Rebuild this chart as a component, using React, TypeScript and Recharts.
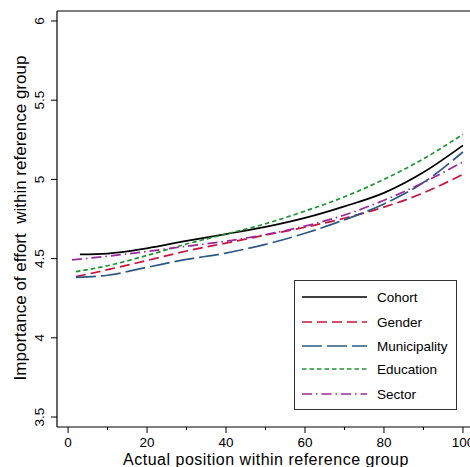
import React from "react";
import { LineChart, Line, XAxis, YAxis, Legend, ReferenceLine } from "recharts";

// actual position (x) shared by all series; first point differs per series
const POSITIONS = [2, 10, 20, 30, 40, 50, 60, 70, 80, 90, 100];
const FIRST_POSITION = [3, 2, 2, 2, 1];

const COHORT = [4.527, 4.532, 4.565, 4.612, 4.655, 4.7, 4.757, 4.83, 4.915, 5.045, 5.215];
const GENDER = [4.386, 4.43, 4.488, 4.548, 4.598, 4.648, 4.698, 4.755, 4.825, 4.915, 5.032];
const MUNICIPALITY = [4.382, 4.395, 4.445, 4.495, 4.535, 4.59, 4.66, 4.745, 4.845, 4.98, 5.173];
const EDUCATION = [4.418, 4.455, 4.52, 4.592, 4.655, 4.72, 4.8, 4.89, 5.0, 5.13, 5.285];
const SECTOR = [4.492, 4.515, 4.545, 4.578, 4.61, 4.652, 4.705, 4.775, 4.868, 4.98, 5.11];

const SERIES_NAMES = ["Cohort", "Gender", "Municipality", "Education", "Sector"];
const SERIES_VALUES = [COHORT, GENDER, MUNICIPALITY, EDUCATION, SECTOR];
const SERIES_COLORS = ["#000000", "#c8143c", "#2c5985", "#1e9632", "#9c2a9c"];
const SERIES_DASH = ["", "10 5", "20 5", "4.5 3", "10 4 1.5 4"];

const X_TICKS = [0, 10, 20, 30, 40, 50, 60, 70, 80, 90, 100];
const Y_TICKS = [3.5, 4, 4.5, 5, 5.5, 6];

const FONT = "'Liberation Sans', Arial, sans-serif";

const seriesData = SERIES_VALUES.map((vals, s) =>
  vals.map((v, i) => ({ x: i === 0 ? FIRST_POSITION[s] : POSITIONS[i], y: v }))
);

function XTick(props: any) {
  const { x, y, payload } = props;
  const major = payload.value % 20 === 0;
  return (
    <g>
      <line x1={x} x2={x} y1={y} y2={y + (major ? 6 : 3)} stroke="#000" strokeWidth={1} />
      {major && (
        <text x={x} y={y + 20} textAnchor="middle" fontSize={13.5} fontFamily={FONT} fill="#000">
          {payload.value}
        </text>
      )}
    </g>
  );
}

function YTick(props: any) {
  const { x, y, payload } = props;
  const tx = x - 13;
  return (
    <g>
      <line x1={x - 6} x2={x} y1={y} y2={y} stroke="#000" strokeWidth={1} />
      <text
        x={tx}
        y={y}
        transform={`rotate(-90, ${tx}, ${y})`}
        textAnchor="middle"
        fontSize={13.5}
        fontFamily={FONT}
        fill="#000"
      >
        {payload.value}
      </text>
    </g>
  );
}

const ROW_Y = [17, 42, 66, 89, 114];

function LegendBox() {
  return (
    <svg width={163} height={130} style={{ display: "block" }}>
      <rect x={0.5} y={0.5} width={162} height={129} fill="#fff" stroke="#333" strokeWidth={1} />
      {SERIES_NAMES.map((name, i) => (
        <g key={name}>
          <line
            x1={8}
            x2={73}
            y1={ROW_Y[i]}
            y2={ROW_Y[i]}
            stroke={SERIES_COLORS[i]}
            strokeWidth={1.6}
            strokeDasharray={SERIES_DASH[i] || undefined}
          />
          <text x={83} y={ROW_Y[i] + 4.5} fontSize={13.5} fontFamily={FONT} fill="#000">
            {name}
          </text>
        </g>
      ))}
    </svg>
  );
}

export default function App() {
  return (
    <div
      style={{
        position: "absolute",
        left: 0,
        top: 0,
        width: 470,
        height: 467,
        overflow: "hidden",
        background: "#fff",
      }}
    >
      <LineChart width={480} height={467} margin={{ top: 11, right: 6, left: 0, bottom: 0 }}>
        <XAxis
          type="number"
          dataKey="x"
          domain={[-2.8, 102.8]}
          ticks={X_TICKS}
          interval={0}
          tick={<XTick />}
          tickLine={false}
          tickSize={0}
          tickMargin={0}
          height={40}
          axisLine={{ stroke: "#000", strokeWidth: 1.2 }}
          allowDataOverflow
          label={{
            content: () => (
              <text
                x={266}
                y={465}
                textAnchor="middle"
                fontSize={16}
                letterSpacing={0.5}
                fontFamily={FONT}
                fill="#000"
              >
                Actual position within reference group
              </text>
            ),
          }}
        />
        <YAxis
          type="number"
          domain={[3.437, 6.063]}
          ticks={Y_TICKS}
          interval={0}
          tick={<YTick />}
          tickLine={false}
          tickSize={0}
          tickMargin={0}
          width={57}
          axisLine={{ stroke: "#000", strokeWidth: 1.2 }}
          allowDataOverflow
          label={{
            content: () => (
              <text
                x={26}
                y={218}
                transform="rotate(-90, 26, 218)"
                textAnchor="middle"
                fontSize={17}
                fontFamily={FONT}
                fill="#000"
                style={{ whiteSpace: "pre" }}
              >
                {"Importance of effort  within reference group"}
              </text>
            ),
          }}
        />
        <ReferenceLine y={6.063} stroke="#000" strokeWidth={1.2} ifOverflow="visible" />
        {SERIES_NAMES.map((name, i) => (
          <Line
            key={name}
            data={seriesData[i]}
            dataKey="y"
            name={name}
            type="monotone"
            stroke={SERIES_COLORS[i]}
            strokeWidth={1.7}
            strokeDasharray={SERIES_DASH[i] || undefined}
            dot={false}
            activeDot={false}
            isAnimationActive={false}
          />
        ))}
        <Legend
          layout="vertical"
          align="center"
          verticalAlign="middle"
          content={() => <LegendBox />}
          wrapperStyle={{ left: 294, top: 280, width: 163, height: 130, right: "auto", bottom: "auto" }}
        />
      </LineChart>
    </div>
  );
}
